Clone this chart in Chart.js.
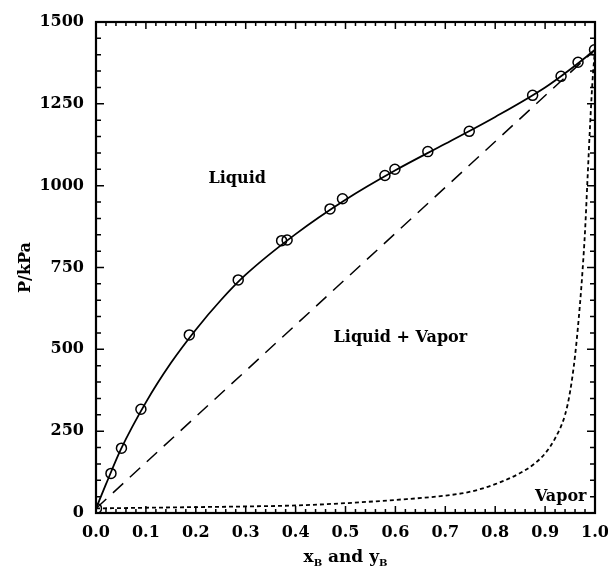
<!DOCTYPE html>
<html>
<head>
<meta charset="utf-8">
<script src="https://cdn.jsdelivr.net/npm/chart.js@4/dist/chart.umd.min.js"></script>
<style>
html,body{margin:0;padding:0;background:#fff;}
#wrap{width:608px;height:573px;}
</style>
</head>
<body>
<div id="wrap"><canvas id="c" width="608" height="573"></canvas></div>
<script>
// Experimental bubble-point data (circles)
const expX = [0.001, 0.030, 0.051, 0.090, 0.187, 0.285, 0.372, 0.383, 0.469, 0.494, 0.579, 0.599, 0.665, 0.748, 0.875, 0.932, 0.966, 0.999];
const expP = [14, 121, 198, 317, 544, 712, 832, 834, 929, 960, 1031, 1050, 1104, 1166, 1276, 1334, 1377, 1415];
// Bubble-point curve (solid)
const bubX = [0, 0.02, 0.05, 0.10, 0.15, 0.20, 0.25, 0.30, 0.40, 0.50, 0.60, 0.70, 0.80, 0.90, 0.95, 1.0];
const bubP = [14, 88, 195, 338, 458, 560, 650, 728, 852, 957, 1047, 1128, 1210, 1300, 1355, 1415];
// Raoult's law line (dashed)
const raoultX = [0, 1];
const raoultP = [14, 1415];
// Dew-point curve (short dashes)
const dewX = [0, 0.1, 0.2, 0.3, 0.4, 0.5, 0.6, 0.7, 0.75, 0.8, 0.85, 0.88, 0.9, 0.92, 0.94, 0.95, 0.96, 0.97, 0.975, 0.98, 0.985, 0.99, 0.995, 1.0];
const dewP = [14, 16, 18, 20, 23, 30, 40, 53, 65, 88, 122, 152, 182, 228, 300, 370, 480, 640, 740, 860, 1020, 1180, 1320, 1415];
// Axis ticks
const xMajorStep = 0.1, xMinorStep = 0.02;
const yMajorStep = 250, yMinorStep = 50;
const labels = [
  {text: 'Liquid', x: 0.283, y: 1020, align: 'center'},
  {text: 'Liquid + Vapor', x: 0.61, y: 535, align: 'center'},
  {text: 'Vapor', x: 0.983, y: 50, align: 'right'}
];

const FONT = '"DejaVu Serif", serif';
const pts = (xs, ys) => xs.map((x, i) => ({x: x, y: ys[i]}));

const decor = {
  id: 'decor',
  afterDraw(chart) {
    const ctx = chart.ctx, a = chart.chartArea;
    const xs = chart.scales.x, ys = chart.scales.y;
    ctx.save();
    ctx.strokeStyle = '#000';
    ctx.lineWidth = 1.5;
    const nx = Math.round((xs.max - xs.min) / xMinorStep);
    for (let i = 0; i <= nx; i++) {
      const v = xs.min + i * xMinorStep;
      const px = xs.getPixelForValue(v);
      const len = (i % Math.round(xMajorStep / xMinorStep) === 0) ? 7 : 4;
      ctx.beginPath();
      ctx.moveTo(px, a.bottom); ctx.lineTo(px, a.bottom - len);
      ctx.moveTo(px, a.top); ctx.lineTo(px, a.top + len);
      ctx.stroke();
    }
    const ny = Math.round((ys.max - ys.min) / yMinorStep);
    for (let i = 0; i <= ny; i++) {
      const v = ys.min + i * yMinorStep;
      const py = ys.getPixelForValue(v);
      const len = (i % Math.round(yMajorStep / yMinorStep) === 0) ? 8 : 5;
      ctx.beginPath();
      ctx.moveTo(a.left, py); ctx.lineTo(a.left + len, py);
      ctx.moveTo(a.right, py); ctx.lineTo(a.right - len, py);
      ctx.stroke();
    }
    ctx.lineWidth = 2.2;
    ctx.strokeRect(a.left, a.top, a.right - a.left, a.bottom - a.top);
    ctx.fillStyle = '#000';
    ctx.font = 'bold 16px ' + FONT;
    ctx.textBaseline = 'middle';
    labels.forEach(l => {
      ctx.textAlign = l.align;
      ctx.fillText(l.text, xs.getPixelForValue(l.x), ys.getPixelForValue(l.y));
    });
    const cx = (a.left + a.right) / 2;
    const base = 562;
    const parts = [['x', 0], ['B', 1], [' and ', 0], ['y', 0], ['B', 1]];
    let total = 0;
    parts.forEach(p => {
      ctx.font = (p[1] ? 'bold 10px ' : 'bold 17px ') + FONT;
      total += ctx.measureText(p[0]).width;
    });
    let x0 = cx - total / 2;
    ctx.textAlign = 'left';
    ctx.textBaseline = 'alphabetic';
    parts.forEach(p => {
      ctx.font = (p[1] ? 'bold 10px ' : 'bold 17px ') + FONT;
      ctx.fillText(p[0], x0, p[1] ? base + 4 : base);
      x0 += ctx.measureText(p[0]).width;
    });
    ctx.restore();
  }
};

new Chart(document.getElementById('c'), {
  type: 'scatter',
  data: {
    datasets: [
      {data: pts(bubX, bubP), showLine: true, borderColor: '#000', borderWidth: 1.8, pointRadius: 0, cubicInterpolationMode: 'monotone', fill: false},
      {data: pts(raoultX, raoultP), showLine: true, borderColor: '#000', borderWidth: 1.5, borderDash: [14, 9], pointRadius: 0, fill: false},
      {data: pts(dewX, dewP), showLine: true, borderColor: '#000', borderWidth: 1.8, borderDash: [4, 3], pointRadius: 0, cubicInterpolationMode: 'monotone', fill: false},
      {data: pts(expX, expP), showLine: false, pointStyle: 'circle', pointRadius: 5, borderColor: '#000', borderWidth: 1.5, backgroundColor: 'rgba(0,0,0,0)'}
    ]
  },
  options: {
    responsive: false,
    animation: false,
    events: [],
    layout: {padding: {left: 0, right: 13, top: 22, bottom: 0}},
    plugins: {legend: {display: false}, tooltip: {enabled: false}},
    scales: {
      x: {
        type: 'linear', min: 0, max: 1,
        grid: {display: false, drawTicks: false},
        border: {display: false},
        ticks: {stepSize: xMajorStep, padding: 10, color: '#000', font: {family: FONT, size: 16, weight: 'bold'}, callback: v => v.toFixed(1)},
        afterFit: s => { s.height = 60; s.paddingLeft = 0; s.paddingRight = 0; }
      },
      y: {
        type: 'linear', min: 0, max: 1500,
        grid: {display: false, drawTicks: false},
        border: {display: false},
        ticks: {stepSize: yMajorStep, padding: 12, color: '#000', font: {family: FONT, size: 16, weight: 'bold'}, callback: v => String(v)},
        title: {display: true, text: 'P/kPa', color: '#000', padding: {top: 16, bottom: 0}, font: {family: FONT, size: 16, weight: 'bold'}},
        afterFit: s => { s.width = 96; s.paddingTop = 0; s.paddingBottom = 0; }
      }
    }
  },
  plugins: [decor]
});
</script>
</body>
</html>
